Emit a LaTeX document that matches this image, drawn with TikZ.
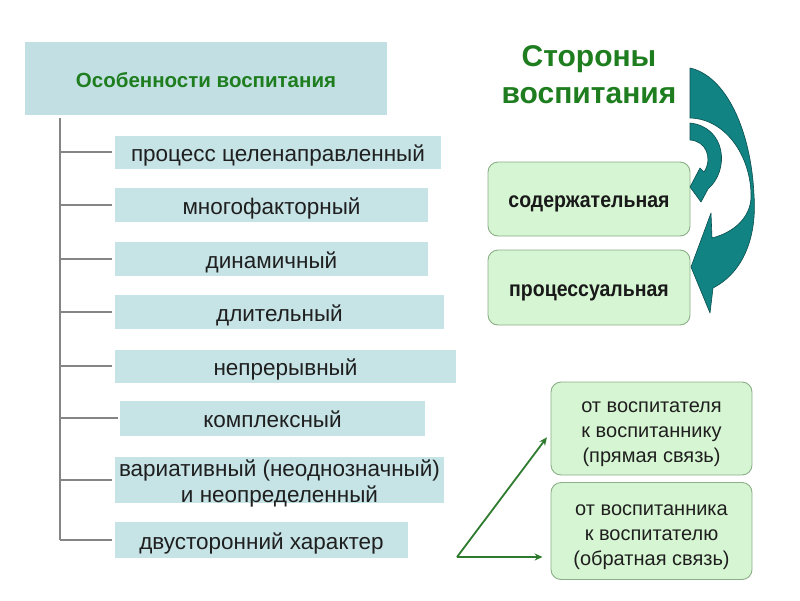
\documentclass[tikz,border=0pt]{standalone}
\usepackage{fontspec}
\setmainfont{Liberation Sans}
\usetikzlibrary{calc,arrows.meta}
\definecolor{boxblue}{HTML}{C6E3E6}
\definecolor{headblue}{HTML}{C2E0E3}
\definecolor{titlegreen}{HTML}{1E7D1E}
\definecolor{boxgreen}{HTML}{D6F5D2}
\definecolor{boxedge}{HTML}{8CAE88}
\definecolor{treegray}{HTML}{858585}
\definecolor{teal1}{HTML}{118383}
\definecolor{tealedge}{HTML}{0B4E4E}
\definecolor{arrgreen}{HTML}{2E7A2E}
\newcommand{\stackc}[1]{\begin{tabular}[t]{@{}c@{}}#1\end{tabular}}
\tikzset{
  feat/.style={fill=boxblue, inner sep=0pt, font=\fontsize{22.5}{26}\selectfont, text=black!88,
               text height=20pt, text depth=1.6pt},
  side/.style={fill=boxgreen, draw=boxedge, line width=0.9pt, rounded corners=10pt, inner sep=0pt},
  sidebold/.style={side, font=\bfseries\fontsize{19.5}{22}\selectfont, text=black!90, text height=19pt, text depth=1.4pt},
  relation/.style={side, font=\fontsize{20}{25}\selectfont, text=black!88, text height=20pt, text depth=52pt},
  treeline/.style={draw=treegray, line width=1.6pt},
  linkarrow/.style={draw=arrgreen, line width=1.8pt, -{Stealth[length=8pt,width=7pt]}},
  bigarrow/.style={fill=teal1, draw=tealedge, line width=0.6pt, line join=round}
}
\begin{document}
\begin{tikzpicture}[x=1pt,y=-1pt]
\useasboundingbox (0,0) rectangle (800,600);
\fill[white] (0,0) rectangle (800,600);

% header
\node[fill=headblue, minimum width=362pt, minimum height=73pt, inner sep=0pt,
      font=\bfseries\fontsize{20.5}{24}\selectfont, text=titlegreen,
      text height=20pt, text depth=1.2pt] (head) at (206,78.5) {Особенности воспитания};

% features
\node[feat, minimum width=326pt, minimum height=33pt] (f1) at (278,152) {процесс целенаправленный};
\node[feat, minimum width=313pt, minimum height=34pt] (f2) at (271.5,205) {многофакторный};
\node[feat, minimum width=313pt, minimum height=34pt] (f3) at (271.5,259) {динамичный};
\node[feat, minimum width=329pt, minimum height=34pt] (f4) at (279.5,312) {длительный};
\node[feat, minimum width=341pt, minimum height=33pt] (f5) at (285.5,366) {непрерывный};
\node[feat, minimum width=305pt, minimum height=35pt] (f6) at (272.5,418) {комплексный};
\node[feat, minimum width=329pt, minimum height=46pt, text height=18pt, text depth=24.6pt] (f7) at (279.5,480)
  {\stackc{вариативный (неоднозначный)\\и неопределенный}};
\node[feat, minimum width=293pt, minimum height=36pt] (f8) at (261.5,540) {двусторонний характер};

% tree
\coordinate (trunk) at (60,118);
\draw[treeline] (trunk) -- (trunk |- f8.west);
\foreach \n in {f1,f2,f3,f4,f5,f7,f8}{
  \draw[treeline] (trunk |- \n.west) -- ([xshift=-3pt]\n.west);
}
\draw[treeline] (trunk |- f6.west) -- ([xshift=-2pt]f6.west);

% title right
\node[font=\bfseries\fontsize{30}{37}\selectfont, text=titlegreen, inner sep=0pt, anchor=base] (title) at (589,66.7)
  {\stackc{Стороны\\воспитания}};

% side boxes
\node[sidebold, minimum width=202pt, minimum height=74pt] (s1) at (589,199) {\scalebox{1}[1.12]{содержательная}};
\node[sidebold, minimum width=202pt, minimum height=75pt] (s2) at (589,287.5) {\scalebox{1}[1.12]{процессуальная}};

% curved teal arrows
\path[bigarrow] (690,68) -- (690,118)
  .. controls (728,119) and (752,160) .. (751,198)
  .. controls (750,217) and (735,232) .. (712,238)
  -- (711,213) -- (691,267) -- (710,313) -- (713,288)
  .. controls (744,272) and (757,236) .. (754,195)
  .. controls (751,130) and (726,76) .. (690,68) -- cycle;
\path[bigarrow] (690,123)
  .. controls (726,127) and (730,170) .. (708,189)
  -- (701,202) -- (690,187) -- (700,168) -- (704,172)
  .. controls (713,158) and (706,141) .. (690,140) -- cycle;

% relation boxes
\node[relation, minimum width=201pt, minimum height=93pt] (direct) at (651.5,428.5)
  {\stackc{от воспитателя\\к воспитаннику\\(прямая связь)}};
\node[relation, minimum width=201pt, minimum height=97pt] (reverse) at (651.5,531)
  {\stackc{от воспитанника\\к воспитателю\\(обратная связь)}};

% connectors
\coordinate (apex) at (457,557);
\draw[linkarrow, shorten >=6pt] (apex) -- ($(direct.west)+(0,4)$);
\draw[linkarrow, shorten >=8pt] (apex) -- (apex -| reverse.west);
\end{tikzpicture}
\end{document}
